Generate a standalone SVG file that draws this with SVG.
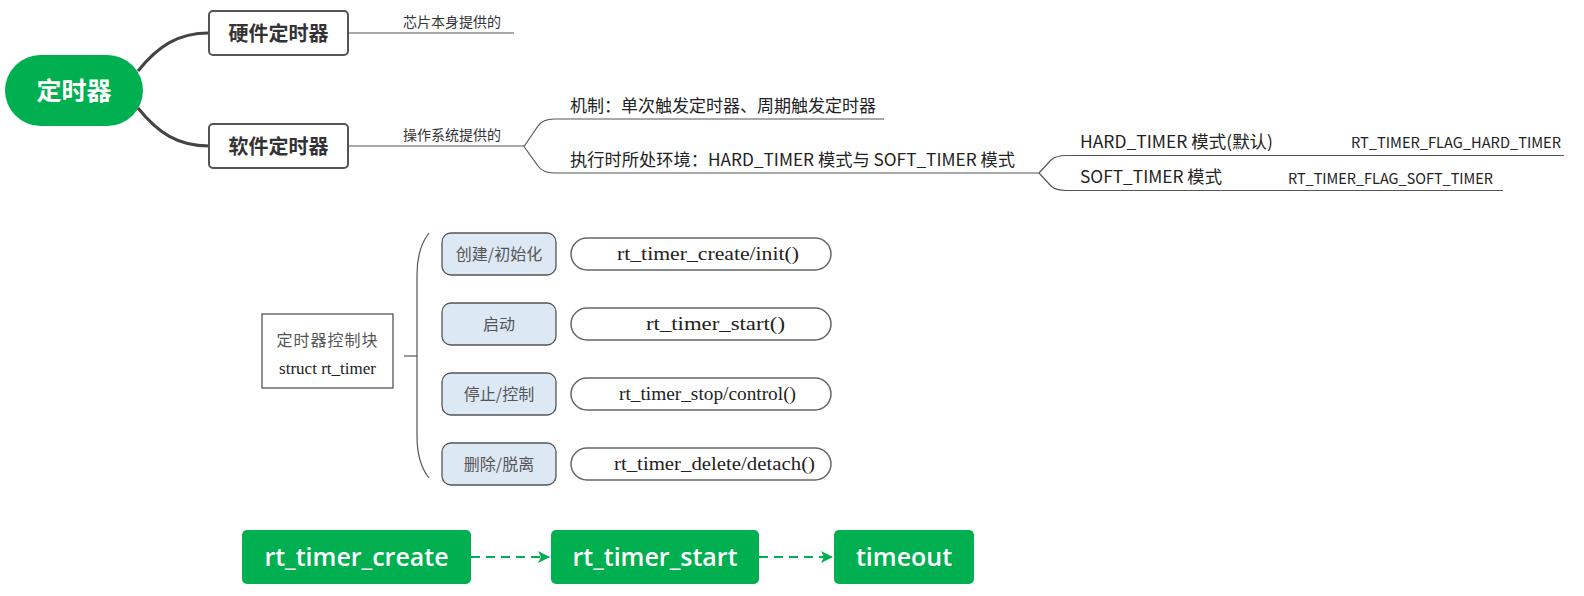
<svg xmlns="http://www.w3.org/2000/svg" width="1584" height="596" viewBox="0 0 1584 596">
<style>
.cjk{font-family:"Noto Sans CJK SC","Noto Sans",sans-serif}
.root{font-size:25px;font-weight:bold;fill:#fff}
.l1box{fill:#fff;stroke:#555;stroke-width:2}
.l1txt{font-size:20px;font-weight:bold;fill:#333}
.note{font-size:14px;fill:#333}
.l2txt{font-size:17px;fill:#222}
.flag{font-size:14.5px;fill:#222}
.thin{fill:none;stroke:#555;stroke-width:1.2}
.branch{fill:none;stroke:#444;stroke-width:3}
.ser{font-family:"Liberation Serif","Noto Sans CJK SC",serif;font-size:18.5px;fill:#222}
.ser2{font-family:"Liberation Serif","Noto Sans CJK SC",serif;font-size:17px;fill:#222}
.grey{font-family:"Noto Sans CJK SC",sans-serif;font-size:16px;fill:#555}
.op{fill:#dde8f5;stroke:#555;stroke-width:1.3}
.fn{fill:#fff;stroke:#666;stroke-width:1.5}
.gbox{fill:#00b050}
.gtxt{font-family:"Open Sans","Noto Sans",sans-serif;font-size:25px;font-weight:600;fill:#fff}
.dash{fill:none;stroke:#00b050;stroke-width:2.2;stroke-dasharray:9 6}
</style>
<defs>
<marker id="arr" viewBox="0 0 12 12" refX="11" refY="6" markerWidth="12" markerHeight="12" markerUnits="userSpaceOnUse" orient="auto">
<path d="M0,0 L12,6 L0,12 L3,6 Z" fill="#00b050"/>
</marker>
</defs>
<g id="connectors">
<path class="branch" d="M138,71 C158,46 178,33 209,33"/>
<path class="branch" d="M138,108 C158,133 178,146 209,146"/>
<path class="thin" d="M348,33 H514"/>
<path class="thin" d="M348,146 H524"/>
<path class="thin" d="M524,146.5 L538,126 Q543,119 554,119 H884"/>
<path class="thin" d="M524,146.5 L538,166 Q543,173 554,173 H1039"/>
<path class="thin" d="M1039,173 L1051,160 Q1056,155.5 1066,155.5 H1564"/>
<path class="thin" d="M1039,173 L1051,186 Q1056,190.5 1066,190.5 H1503"/>
<path class="thin" d="M429,233 Q417,248 417,275 V436 Q417,463 429,478"/>
<path class="thin" d="M404,356 H417"/>
<path class="dash" d="M471,557 H549" marker-end="url(#arr)"/>
<path class="dash" d="M759,557 H832" marker-end="url(#arr)"/>
</g>
<g id="root">
<rect x="5" y="55" width="138" height="71" rx="35.5" fill="#00b050"/>
<text class="cjk root" x="74" y="100" text-anchor="middle">定时器</text>
</g>
<g id="hw">
<rect class="l1box" x="209" y="11" width="139" height="44" rx="4"/>
<text class="cjk l1txt" x="278.5" y="41" text-anchor="middle">硬件定时器</text>
</g>
<g id="sw">
<rect class="l1box" x="209" y="124" width="139" height="44" rx="4"/>
<text class="cjk l1txt" x="278.5" y="154" text-anchor="middle">软件定时器</text>
</g>
<g id="hw-note"><text class="cjk note" x="403" y="27">芯片本身提供的</text></g>
<g id="sw-note"><text class="cjk note" x="403" y="140">操作系统提供的</text></g>
<g id="mech"><text class="cjk l2txt" x="570" y="112" textLength="306" lengthAdjust="spacingAndGlyphs">机制：单次触发定时器、周期触发定时器</text></g>
<g id="env"><text class="cjk l2txt" x="570" y="166" textLength="445" lengthAdjust="spacingAndGlyphs">执行时所处环境：HARD_TIMER 模式与 SOFT_TIMER 模式</text></g>
<g id="hard"><text class="cjk l2txt" x="1080" y="148" textLength="193" lengthAdjust="spacingAndGlyphs">HARD_TIMER 模式(默认)</text></g>
<g id="hard-flag"><text class="cjk flag" x="1351" y="148" textLength="210" lengthAdjust="spacingAndGlyphs">RT_TIMER_FLAG_HARD_TIMER</text></g>
<g id="soft"><text class="cjk l2txt" x="1080" y="183" textLength="142" lengthAdjust="spacingAndGlyphs">SOFT_TIMER 模式</text></g>
<g id="soft-flag"><text class="cjk flag" x="1288" y="184" textLength="205" lengthAdjust="spacingAndGlyphs">RT_TIMER_FLAG_SOFT_TIMER</text></g>
<g id="ctrl">
<rect x="262" y="314" width="131" height="74" fill="#fff" stroke="#555" stroke-width="1.3"/>
<text class="grey" x="327.5" y="346" text-anchor="middle" letter-spacing="1">定时器控制块</text>
<text class="ser2" x="327.5" y="374" text-anchor="middle">struct rt_timer</text>
</g>
<g id="op-create">
<rect class="op" x="442" y="233" width="114" height="42" rx="9"/>
<text class="grey" x="499" y="260" text-anchor="middle">创建/初始化</text>
</g>
<g id="op-start">
<rect class="op" x="442" y="303" width="114" height="42" rx="9"/>
<text class="grey" x="499" y="330" text-anchor="middle">启动</text>
</g>
<g id="op-stop">
<rect class="op" x="442" y="373" width="114" height="42" rx="9"/>
<text class="grey" x="499" y="400" text-anchor="middle">停止/控制</text>
</g>
<g id="op-delete">
<rect class="op" x="442" y="443" width="114" height="42" rx="9"/>
<text class="grey" x="499" y="470" text-anchor="middle">删除/脱离</text>
</g>
<g id="fn-create">
<rect class="fn" x="571" y="238" width="260" height="32" rx="16"/>
<text class="ser" x="617" y="260" textLength="182" lengthAdjust="spacingAndGlyphs">rt_timer_create/init()</text>
</g>
<g id="fn-start">
<rect class="fn" x="571" y="308" width="260" height="32" rx="16"/>
<text class="ser" x="646" y="330" textLength="139" lengthAdjust="spacingAndGlyphs">rt_timer_start()</text>
</g>
<g id="fn-stop">
<rect class="fn" x="571" y="378" width="260" height="32" rx="16"/>
<text class="ser" x="619" y="400" textLength="177" lengthAdjust="spacingAndGlyphs">rt_timer_stop/control()</text>
</g>
<g id="fn-delete">
<rect class="fn" x="571" y="448" width="260" height="32" rx="16"/>
<text class="ser" x="614" y="470" textLength="201" lengthAdjust="spacingAndGlyphs">rt_timer_delete/detach()</text>
</g>
<g id="g-create">
<rect class="gbox" x="242" y="530" width="229" height="54" rx="5"/>
<text class="gtxt" x="356.5" y="566" text-anchor="middle">rt_timer_create</text>
</g>
<g id="g-start">
<rect class="gbox" x="551" y="530" width="208" height="54" rx="5"/>
<text class="gtxt" x="655" y="566" text-anchor="middle">rt_timer_start</text>
</g>
<g id="g-timeout">
<rect class="gbox" x="834" y="530" width="140" height="54" rx="5"/>
<text class="gtxt" x="904" y="566" text-anchor="middle">timeout</text>
</g>
</svg>
